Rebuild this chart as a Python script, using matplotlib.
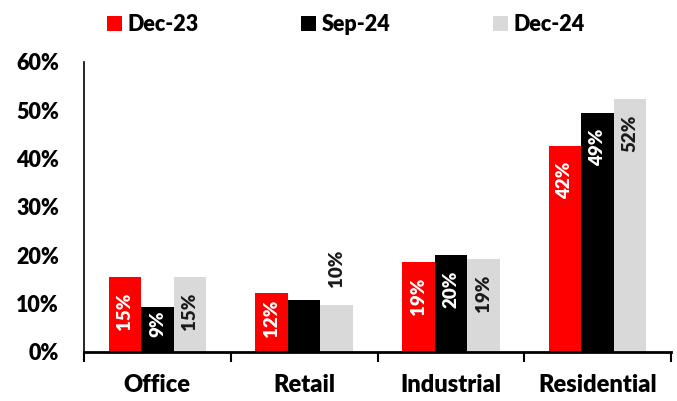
import numpy as np
import matplotlib
matplotlib.use("Agg")
import matplotlib.pyplot as plt
from matplotlib.patches import Patch
from matplotlib.ticker import FuncFormatter

plt.rcParams['font.family'] = ['Lato', 'DejaVu Sans']
plt.rcParams['font.weight'] = 'heavy'

categories = ["Office", "Retail", "Industrial", "Residential"]
series_names = ["Dec-23", "Sep-24", "Dec-24"]
dec23 = [15.5, 12.2, 18.6, 42.6]
sep24 = [9.3, 10.8, 20.1, 49.5]
dec24 = [15.5, 9.7, 19.3, 52.4]
# label text per bar (None = no label shown)
dec23_labels = ["15%", "12%", "19%", "42%"]
sep24_labels = ["9%", None, "20%", "49%"]
dec24_labels = ["15%", "10%", "19%", "52%"]

colors = ["#FF0000", "#000000", "#D9D9D9"]
label_colors = ["white", "white", "#1a1a1a"]

fig = plt.figure(figsize=(6.77, 4.01), dpi=100)
ax = fig.add_axes([84 / 677, (401 - 352) / 401, (671 - 84) / 677, (352 - 62) / 401])

x = np.arange(len(categories))
width = 0.222
all_vals = [dec23, sep24, dec24]
all_labels = [dec23_labels, sep24_labels, dec24_labels]

bar_sets = []
for i, (vals, col) in enumerate(zip(all_vals, colors)):
    bars = ax.bar(x + (i - 1) * width, vals, width, color=col, label=series_names[i], zorder=2)
    bar_sets.append(bars)

ax.set_xlim(-0.5, len(categories) - 0.5)
ax.set_ylim(0, 60)
ax.set_yticks(np.arange(0, 61, 10))
ax.yaxis.set_major_formatter(FuncFormatter(lambda v, p: f"{v:.0f}%"))
ax.tick_params(axis='y', length=0, labelsize=15.5, pad=18)
ax.set_xticks(x)
ax.set_xticklabels(categories, fontsize=17)
ax.tick_params(axis='x', which='major', length=0, pad=16)
ax.set_xticks(np.arange(-0.5, len(categories), 1), minor=True)
ax.tick_params(axis='x', which='minor', length=7, width=1.5, direction='out')

for s in ['top', 'right']:
    ax.spines[s].set_visible(False)
ax.spines['left'].set_linewidth(1.2)
ax.spines['bottom'].set_linewidth(2)

# data labels, rotated, placed inside end of bar unless they don't fit
fig.canvas.draw()
renderer = fig.canvas.get_renderer()
px_per_unit = ax.transData.transform((0, 1))[1] - ax.transData.transform((0, 0))[1]
for bars, labs, tcol in zip(bar_sets, all_labels, label_colors):
    for b, lab in zip(bars, labs):
        if lab is None:
            continue
        cx = b.get_x() + b.get_width() / 2
        top = b.get_height()
        t = ax.annotate(lab, (cx, top), xytext=(0, 0), textcoords='offset pixels',
                        rotation=90, ha='center', va='top', fontsize=13.5,
                        color=tcol, zorder=3)
        tlen = t.get_window_extent(renderer).height
        bar_h = top * px_per_unit
        if bar_h < tlen + 15:
            # outside above the bar
            t.set_va('bottom')
            t.set_color('#1a1a1a')
            t.xyann = (0, 18)
        else:
            gap = min(16, bar_h - tlen - 15)
            t.xyann = (0, -gap)

# legend entries spaced like the original
legend_x = [0.158, 0.445, 0.728]
for name, col, lx in zip(series_names, colors, legend_x):
    fig.legend(handles=[Patch(facecolor=col, edgecolor='none')], labels=[name],
               loc='center left', bbox_to_anchor=(lx, 0.939), frameon=False,
               fontsize=15.5, handlelength=0.7, handleheight=0.7, handletextpad=0.25,
               borderaxespad=0, borderpad=0)

fig.savefig("out.png", dpi=100)
